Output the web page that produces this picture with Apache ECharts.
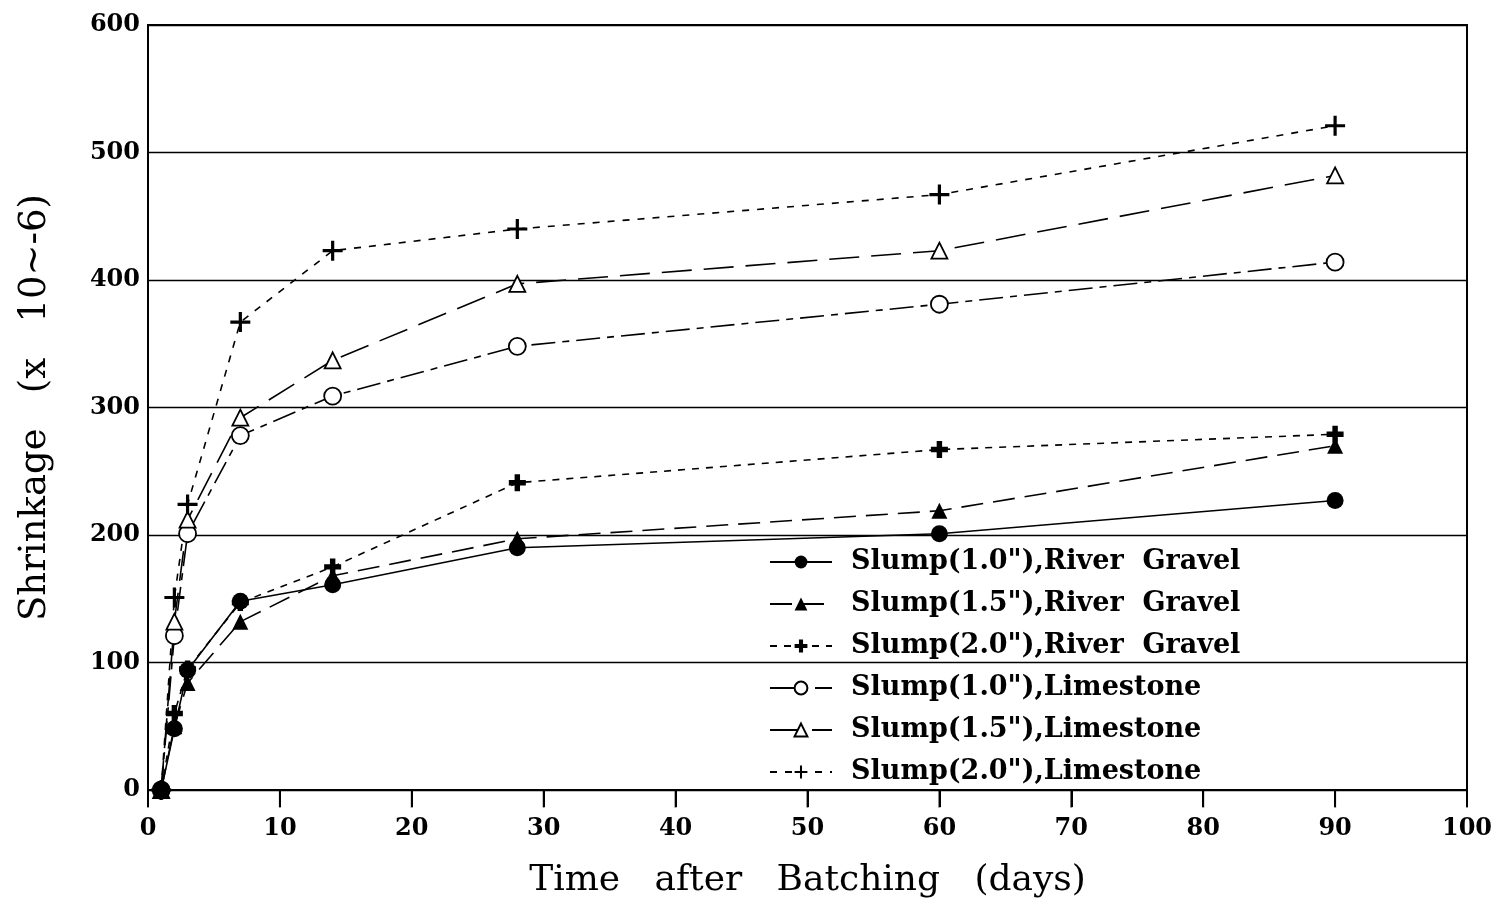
<!DOCTYPE html>
<html><head><meta charset="utf-8">
<script src="https://cdn.jsdelivr.net/npm/echarts@6/dist/echarts.min.js"></script>
<style>html,body{margin:0;padding:0;background:#fff}#c{width:1501px;height:904px}</style>
</head><body><div id="c"></div>
<script>
const days = [1, 2, 3, 7, 14, 28, 60, 90];
const rg10 = [0, 48, 94, 148, 161, 190, 201, 227];
const rg15 = [0, 50, 84, 132, 168, 197, 219, 270];
const rg20 = [0, 60, 95, 147, 175, 241, 267, 279];
const ls10 = [0, 121, 201, 278, 309, 348, 381, 414];
const ls15 = [0, 132, 212, 292, 337, 397, 423, 482];
const ls20 = [0, 151, 224, 367, 423, 440, 467, 521];
const names = ['Slump(1.0"),River  Gravel','Slump(1.5"),River  Gravel','Slump(2.0"),River  Gravel',
  'Slump(1.0"),Limestone','Slump(1.5"),Limestone','Slump(2.0"),Limestone'];
const xTicks = [0,10,20,30,40,50,60,70,80,90,100];
const yTicks = [0,100,200,300,400,500,600];

const plusBold = 'path://M-1.6,-5 L1.6,-5 L1.6,-1.6 L5,-1.6 L5,1.6 L1.6,1.6 L1.6,5 L-1.6,5 L-1.6,1.6 L-5,1.6 L-5,-1.6 L-1.6,-1.6 Z';
const plusThin = 'path://M-0.8,-5 L0.8,-5 L0.8,-0.8 L5,-0.8 L5,0.8 L0.8,0.8 L0.8,5 L-0.8,5 L-0.8,0.8 L-5,0.8 L-5,-0.8 L-0.8,-0.8 Z';

function mk(name, vals, symbol, size, dash, filled, z) {
  return {
    name: name, type: 'line', data: days.map((d,i)=>[d, vals[i]]), z: z,
    symbol: symbol, symbolSize: size, showSymbol: true,
    lineStyle: {color:'#000', width: 1.6, type: dash},
    itemStyle: {color: filled ? '#000' : '#fff', borderColor:'#000', borderWidth: filled ? 0 : 1.8},
    emphasis: {disabled: true}, animation: false
  };
}
const series = [
  mk(names[0], rg10, 'circle', 17, 'solid', true, 4),
  mk(names[1], rg15, 'triangle', 16, [22,10], true, 4),
  mk(names[2], rg20, plusBold, 17, [7,7], true, 4),
  mk(names[3], ls10, 'circle', 17, [24,7,7,7], false, 2),
  mk(names[4], ls15, 'triangle', 16, [30,12], false, 2),
  mk(names[5], ls20, plusThin, 20, [7,8], true, 2),
  {
    name: 'ticks', type: 'scatter', data: xTicks.map(v => [v, 0]), clip: false, silent: true,
    symbol: 'rect', symbolSize: [2, 17], symbolOffset: [0, 9], z: 1,
    itemStyle: {color: '#000'}, emphasis: {disabled: true}, tooltip: {show: false}
  }
];
const chart = echarts.init(document.getElementById('c'), null, {renderer:'canvas'});
chart.setOption({
  backgroundColor:'#fff',
  animation:false,
  grid:{left:148, right:34, top:25, bottom:111, show:true, borderColor:'#000', borderWidth:2},
  legend:{
    orient:'vertical', left:764, top:542, itemWidth:62, itemHeight:16, itemGap:12,
    selectedMode:false,
    textStyle:{fontFamily:'DejaVu Serif', fontWeight:'bold', fontSize:27, lineHeight:30, color:'#000', padding:[0,0,0,14]},
    data: names
  },
  xAxis:{
    type:'value', min:0, max:100, interval:10,
    axisLine:{show:true, lineStyle:{color:'#000', width:2}},
    axisTick:{show:true, inside:false, length:17, lineStyle:{color:'#000', width:2}},
    splitLine:{show:false},
    axisLabel:{color:'#000', fontFamily:'DejaVu Serif', fontWeight:'bold', fontSize:24, margin:27,
      formatter: v => xTicks.includes(v) ? String(v) : ''},
    name:'Time   after   Batching   (days)', nameLocation:'middle', nameGap:73,
    nameTextStyle:{color:'#000', fontFamily:'DejaVu Serif', fontSize:36}
  },
  yAxis:{
    type:'value', min:0, max:600, interval:100,
    axisLine:{show:true, lineStyle:{color:'#000', width:2}},
    axisTick:{show:false},
    splitLine:{show:true, lineStyle:{color:'#000', width:1.3}},
    axisLabel:{color:'#000', fontFamily:'DejaVu Serif', fontWeight:'bold', fontSize:24, margin:8,
      formatter: v => yTicks.includes(v) ? String(v) : ''},
    name:'Shrinkage   (x   10~-6)', nameLocation:'middle', nameGap:94, nameRotate:90,
    nameTextStyle:{color:'#000', fontFamily:'DejaVu Serif', fontSize:37}
  },
  series: series
});
</script></body></html>
